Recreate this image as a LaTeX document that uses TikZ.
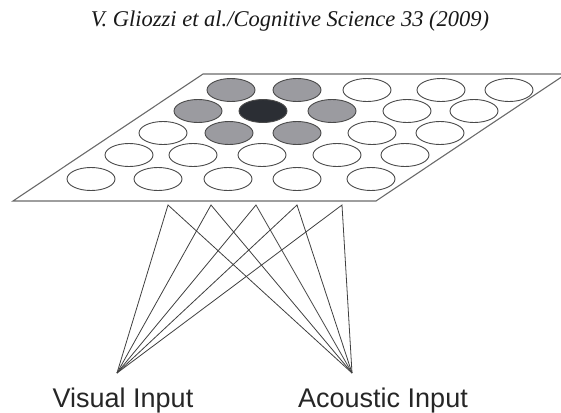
\documentclass[tikz,border=0pt]{standalone}
\usepackage{fontspec}
\setmainfont{Liberation Serif}
\setsansfont{Liberation Sans}
\definecolor{edgegray}{HTML}{6A6A6A}
\definecolor{ringgray}{HTML}{4A4A4A}
\definecolor{midgray}{HTML}{9B9BA0}
\definecolor{darkcell}{HTML}{2B2E34}
\definecolor{wiregray}{HTML}{3F3F3F}
\tikzset{
  cell/.style={draw=ringgray, line width=0.9pt, ellipse, minimum width=48pt, minimum height=23pt, inner sep=0pt, fill=white},
  graycell/.style={cell, fill=midgray},
  blackcell/.style={cell, fill=darkcell},
  wire/.style={draw=wiregray, line width=0.8pt},
  inlabel/.style={font=\sffamily\fontsize{27}{31}\selectfont, text=black!85, anchor=base, inner sep=0pt},
}
\usetikzlibrary{shapes.geometric}
\begin{document}
\begin{tikzpicture}[x=1pt,y=-1pt]
\useasboundingbox (0,0) rectangle (561,412);
\begin{scope}
\clip (0,0) rectangle (561,412);
\draw[edgegray, line width=1.1pt, line join=miter] (13,201) -- (376,201) -- (566,74) -- (203,74) -- cycle;
\end{scope}
\node[inner sep=0pt, anchor=base, font=\itshape\fontsize{22.5}{26}\selectfont, text=black!90] (title) at (290,27) {V. Gliozzi et al./Cognitive Science 33 (2009)};
% row 1
\node[graycell] (r1a) at (231,90) {};
\node[graycell] (r1b) at (297,90) {};
\node[cell] (r1c) at (367,90) {};
\node[cell] (r1d) at (441,90) {};
\node[cell] (r1e) at (509,90) {};
% row 2
\node[graycell] (r2a) at (198,111) {};
\node[blackcell] (r2b) at (263,111) {};
\node[graycell] (r2c) at (332,111) {};
\node[cell] (r2d) at (407,111) {};
\node[cell] (r2e) at (474,111) {};
% row 3
\node[cell] (r3a) at (163,133) {};
\node[graycell] (r3b) at (229,133) {};
\node[graycell] (r3c) at (297,133) {};
\node[cell] (r3d) at (372,133) {};
\node[cell] (r3e) at (440,133) {};
% row 4
\node[cell] (r4a) at (129,155) {};
\node[cell] (r4b) at (193,155) {};
\node[cell] (r4c) at (262,155) {};
\node[cell] (r4d) at (337,155) {};
\node[cell] (r4e) at (405,155) {};
% row 5
\node[cell] (r5a) at (91,179) {};
\node[cell] (r5b) at (158,179) {};
\node[cell] (r5c) at (228,179) {};
\node[cell] (r5d) at (297,179) {};
\node[cell] (r5e) at (371,179) {};
% wires
\coordinate (t1) at (168,205);
\coordinate (t2) at (211,205);
\coordinate (t3) at (256,205);
\coordinate (t4) at (297,205);
\coordinate (t5) at (342,205);
\coordinate (vis) at (117,373);
\coordinate (aco) at (352,373);
\foreach \t in {t1,t2,t3,t4,t5}{
  \draw[wire] (vis) -- (\t) -- (aco);
}
\node[inlabel] (vlab) at (123,407) {Visual Input};
\node[inlabel] (alab) at (383,407) {Acoustic Input};
\end{tikzpicture}
\end{document}
